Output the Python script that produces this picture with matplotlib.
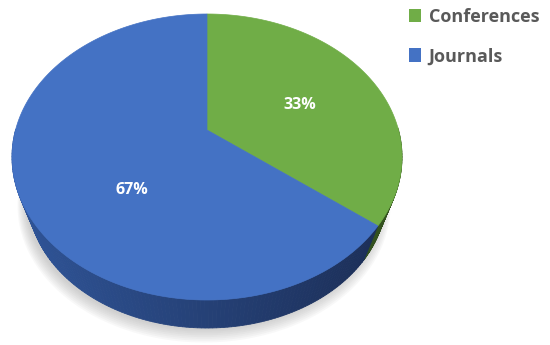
import numpy as np
import matplotlib.pyplot as plt
from matplotlib.patches import Polygon, Rectangle
from matplotlib.colors import to_rgb

labels = ["Conferences", "Journals"]
shares = [33, 67]
top_colors = ["#70AD47", "#4472C4"]
side_light = ["#4C7C2F", "#2F5497"]
side_dark = ["#324F1E", "#1B2D55"]

# pie geometry, in pixels (the axes is a 550x345 pixel canvas, y down)
CX, APEX_Y = 207, 130          # where the slices meet
ELL_Y, RX, RY = 157, 195, 143  # outline of the top face
VANISH_Y = 640                 # vertical edges converge towards this point
DEPTH = 28
# how far out from the apex each percentage label sits (x, y)
LABEL_FRAC = [(0.55, 0.55), (0.45, 0.6)]


def rim(theta, r=1.0):
    return CX + r * RX * np.sin(theta), ELL_Y - r * RY * np.cos(theta)


def lower(x, y):
    # push a top rim point down to the bottom rim (mild perspective)
    k = DEPTH / (VANISH_Y - (ELL_Y + RY))
    return x + (CX - x) * k, y + (VANISH_Y - y) * k


def blend(c1, c2, t):
    a, b = np.array(to_rgb(c1)), np.array(to_rgb(c2))
    return tuple(a * (1 - t) + b * t)


fig = plt.figure(figsize=(5.5, 3.45), dpi=100)
ax = fig.add_axes([0, 0, 1, 1])
ax.set_xlim(0, 550)
ax.set_ylim(345, 0)
ax.axis("off")

# soft shadow under the pie
full = np.linspace(0, 2 * np.pi, 300)
for k in range(8):
    sx, sy = lower(*rim(full, r=1.0 + 0.006 * k))
    ax.add_patch(Polygon(np.column_stack([sx - 3, sy + 2 + k]), closed=True,
                         facecolor="#808080", edgecolor="none", alpha=0.05))

bounds = np.concatenate([[0], np.cumsum(shares)]) / sum(shares) * 2 * np.pi

# side walls
for i in range(len(shares)):
    th = np.linspace(bounds[i], bounds[i + 1], 200)
    for a, b in zip(th[:-1], th[1:]):
        if np.cos(0.5 * (a + b)) > 0.2:
            continue
        x0, y0 = rim(a)
        x1, y1 = rim(b)
        bx0, by0 = lower(x0, y0)
        bx1, by1 = lower(x1, y1)
        t = (np.sin(0.5 * (a + b)) + 1) / 2
        col = blend(side_light[i], side_dark[i], t)
        quad = [(x0, y0), (x1, y1), (bx1, by1), (bx0, by0)]
        ax.add_patch(Polygon(quad, closed=True, facecolor=col,
                             edgecolor=col, linewidth=0.6))

# top faces
for i in range(len(shares)):
    th = np.linspace(bounds[i], bounds[i + 1], 200)
    rx, ry = rim(th)
    pts = np.vstack([[CX, APEX_Y], np.column_stack([rx, ry])])
    ax.add_patch(Polygon(pts, closed=True, facecolor=top_colors[i],
                         edgecolor=top_colors[i], linewidth=0.5))

# percentage labels
for i, s in enumerate(shares):
    mid = 0.5 * (bounds[i] + bounds[i + 1])
    ex, ey = rim(mid)
    fx, fy = LABEL_FRAC[i]
    lx, ly = CX + fx * (ex - CX), APEX_Y + fy * (ey - APEX_Y)
    ax.text(lx, ly, f"{s}%", color="white", fontsize=11.5, fontweight="bold",
            family="Open Sans", ha="center", va="center")

handles = [Rectangle((0, 0), 1, 1, facecolor=c, edgecolor="none")
           for c in top_colors]
leg = ax.legend(handles, labels, loc="upper right", bbox_to_anchor=(1.01, 1.025),
                frameon=False, handlelength=0.65, handleheight=0.75,
                handletextpad=0.45, labelspacing=1.2,
                prop={"family": "Open Sans", "weight": "bold", "size": 13})
for txt in leg.get_texts():
    txt.set_color("#595959")

fig.savefig("out.png", dpi=100)
